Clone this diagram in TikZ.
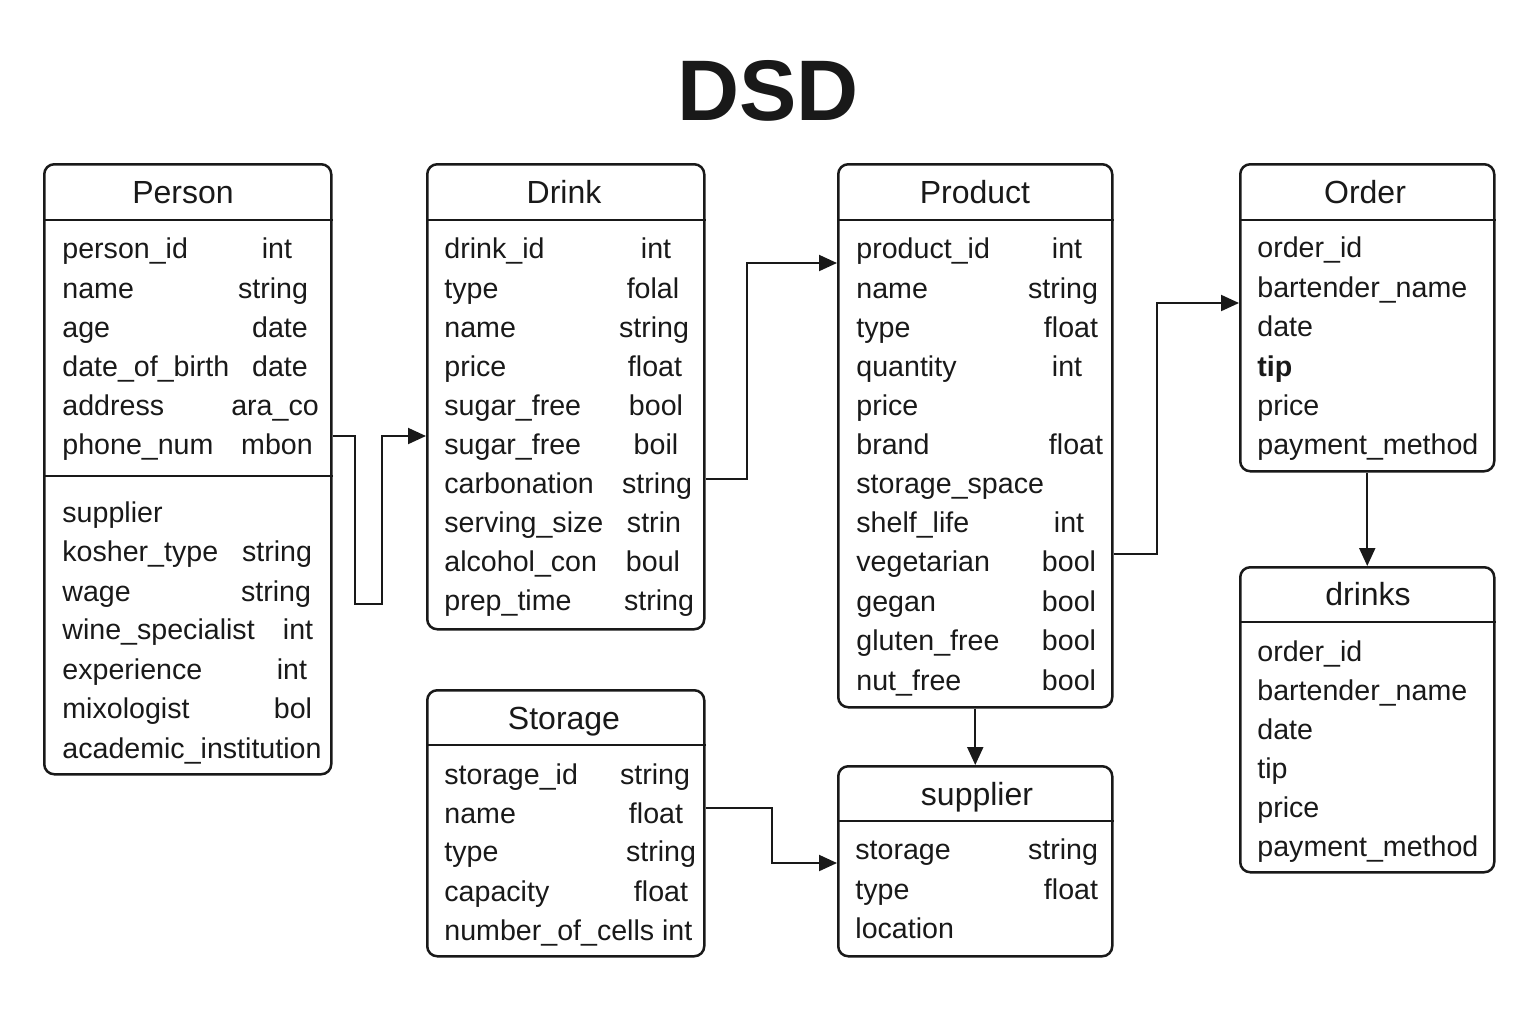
\documentclass[tikz,border=0pt]{standalone}
\usepackage{fontspec}
\setmainfont{Liberation Sans}
\usetikzlibrary{arrows.meta}
\begin{document}
\begin{tikzpicture}[x=0.5pt,y=-0.5pt,
  tbl/.style={draw=black!90, line width=1.25pt, rounded corners=5pt, anchor=north west, inner sep=0pt},
  tblsize/.style 2 args={minimum width={#1*0.5pt}, minimum height={#2*0.5pt}},
  hdr/.style={line width=1.1pt, draw=black!90},
  ttl/.style={anchor=base, inner sep=0pt, text=black!90, font=\fontsize{16}{19}\selectfont},
  fld/.style={anchor=base west, inner sep=0pt, text=black!90, font=\fontsize{14.3}{17}\selectfont},
  typ/.style={anchor=base, inner sep=0pt, text=black!90, font=\fontsize{14.3}{17}\selectfont},
  conn/.style={line width=1pt, draw=black!90, -{Triangle[length=9pt,width=8pt]}}
]
\useasboundingbox (0,0) rectangle (1536,1024);

% title
\node[anchor=base, inner sep=0pt, text=black!90, font=\fontsize{43}{50}\selectfont\bfseries] (title) at (768,120) {DSD};

% ---------- Person ----------
\node[tbl, tblsize={287}{610}] (person) at (43,163) {};
\draw[hdr] (person.west |- 0,220) -- (person.east |- 0,220);
\draw[hdr] (person.west |- 0,476) -- (person.east |- 0,476);
\node[ttl] (person-title) at (183,203) {Person};
\foreach \f/\y [count=\i] in {person\_id/258, name/298, age/337, date\_of\_birth/376, address/415, phone\_num/454,
  supplier/522, kosher\_type/561, wage/601, wine\_specialist/639, experience/679, mixologist/718, academic\_institution/758}
  \node[fld] (person-f\i) at (62,\y) {\f};
\foreach \t/\x/\y [count=\i] in {int/277/258, string/273/298, date/280/337, date/280/376, ara\_co/275/415, mbon/277/454,
  string/277/561, string/276/601, int/298/639, int/292/679, bol/293/718}
  \node[typ] (person-t\i) at (\x,\y) {\t};

% ---------- Drink ----------
\node[tbl, tblsize={277}{465}] (drink) at (426,163) {};
\draw[hdr] (drink.west |- 0,220) -- (drink.east |- 0,220);
\node[ttl] (drink-title) at (564,203) {Drink};
\foreach \f/\t/\x/\y [count=\i] in {drink\_id/int/656/258, type/folal/653/298, name/string/654/337, price/float/655/376,
  sugar\_free/bool/656/415, sugar\_free/boil/656/454, carbonation/string/657/493, serving\_size/strin/654/532,
  alcohol\_con/boul/653/571, prep\_time/string/659/610}
  {\node[fld] (drink-f\i) at (444,\y) {\f};
   \node[typ] (drink-t\i) at (\x,\y) {\t};}

% ---------- Product ----------
\node[tbl, tblsize={274}{543}] (product) at (837,163) {};
\draw[hdr] (product.west |- 0,220) -- (product.east |- 0,220);
\node[ttl] (product-title) at (975,203) {Product};
\foreach \f/\y [count=\i] in {product\_id/258, name/298, type/337, quantity/376, price/415, brand/454,
  storage\_space/493, shelf\_life/532, vegetarian/571, gegan/611, gluten\_free/650, nut\_free/690}
  \node[fld] (product-f\i) at (856,\y) {\f};
\foreach \t/\x/\y [count=\i] in {int/1067/258, string/1063/298, float/1071/337, int/1067/376, float/1076/454,
  int/1069/532, bool/1069/571, bool/1069/611, bool/1069/650, bool/1069/690}
  \node[typ] (product-t\i) at (\x,\y) {\t};

% ---------- Order ----------
\node[tbl, tblsize={254}{307}] (order) at (1239,163) {};
\draw[hdr] (order.west |- 0,220) -- (order.east |- 0,220);
\node[ttl] (order-title) at (1365,203) {Order};
\foreach \f/\y [count=\i] in {order\_id/257, bartender\_name/297, date/336, \textbf{tip}/376, price/415, payment\_method/454}
  \node[fld] (order-f\i) at (1257,\y) {\f};

% ---------- drinks ----------
\node[tbl, tblsize={254}{305}] (drinks) at (1239,566) {};
\draw[hdr] (drinks.west |- 0,622) -- (drinks.east |- 0,622);
\node[ttl] (drinks-title) at (1368,605) {drinks};
\foreach \f/\y [count=\i] in {order\_id/661, bartender\_name/700, date/739, tip/778, price/817, payment\_method/856}
  \node[fld] (drinks-f\i) at (1257,\y) {\f};

% ---------- Storage ----------
\node[tbl, tblsize={277}{266}] (storage) at (426,689) {};
\draw[hdr] (storage.west |- 0,745) -- (storage.east |- 0,745);
\node[ttl] (storage-title) at (564,729) {Storage};
\foreach \f/\y [count=\i] in {storage\_id/784, name/823, type/861, capacity/901, number\_of\_cells int/940}
  \node[fld] (storage-f\i) at (444,\y) {\f};
\foreach \t/\x/\y [count=\i] in {string/655/784, float/656/823, string/661/861, float/661/901}
  \node[typ] (storage-t\i) at (\x,\y) {\t};

% ---------- supplier ----------
\node[tbl, tblsize={274}{190}] (supplier) at (837,765) {};
\draw[hdr] (supplier.west |- 0,821) -- (supplier.east |- 0,821);
\node[ttl] (supplier-title) at (977,805) {supplier};
\foreach \f/\y [count=\i] in {storage/859, type/899, location/938}
  \node[fld] (supplier-f\i) at (855,\y) {\f};
\foreach \t/\x/\y [count=\i] in {string/1063/859, float/1071/899}
  \node[typ] (supplier-t\i) at (\x,\y) {\t};

% ---------- connectors ----------
\draw[conn] (person.east |- 0,436) -- (355,436) -- (355,604) -- (382,604) -- (382,436) -- (drink.west |- 0,436);
\draw[conn] (drink.east |- 0,479) -- (747,479) -- (747,263) -- (product.west |- 0,263);
\draw[conn] (product.east |- 0,554) -- (1157,554) -- (1157,303) -- (order.west |- 0,303);
\draw[conn] (product.south) -- (supplier.north);
\draw[conn] (order.south) -- (drinks.north);
\draw[conn] (storage.east |- 0,808) -- (772,808) -- (772,863) -- (supplier.west |- 0,863);
\end{tikzpicture}
\end{document}
